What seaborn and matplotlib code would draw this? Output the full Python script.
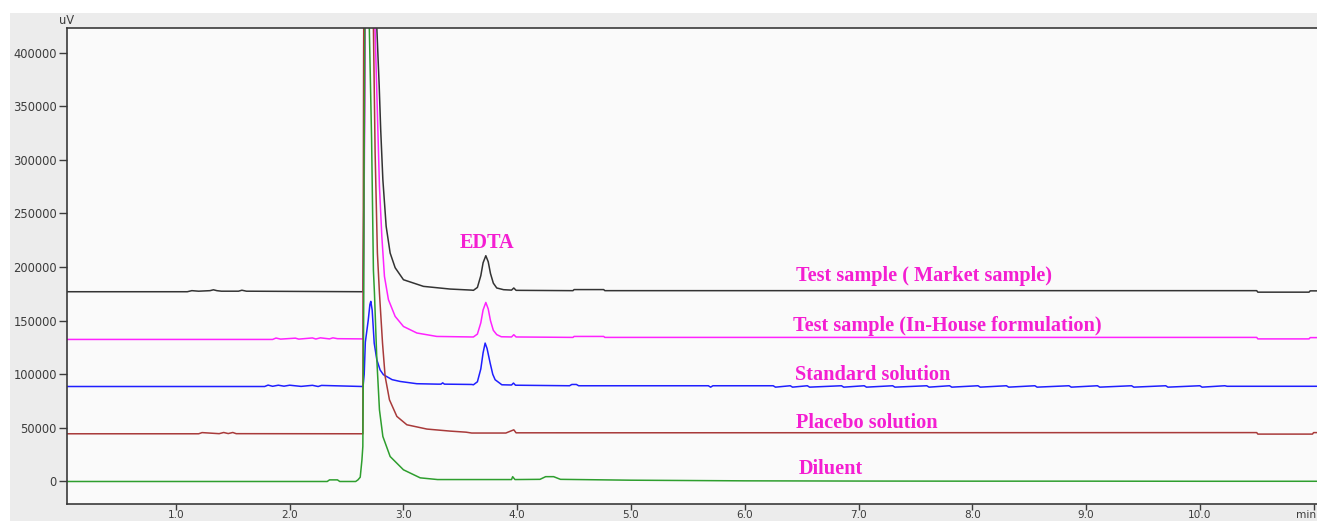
import numpy as np
import pandas as pd
import matplotlib
matplotlib.use("Agg")
import matplotlib.pyplot as plt
from matplotlib.patches import Rectangle
from matplotlib.ticker import MultipleLocator, FixedLocator
import seaborn as sns

# ---------------- data ----------------
market_t = [0.04, 1.10, 1.14, 1.20, 1.30, 1.33, 1.36, 1.40, 1.55, 1.58, 1.62, 2.640,
            2.645, 2.655, 2.675, 2.700, 2.740, 2.766, 2.787, 2.800, 2.819, 2.848, 2.883,
            2.927, 3.000, 3.176, 3.410, 3.600, 3.615, 3.650, 3.680, 3.700, 3.724, 3.745,
            3.765, 3.790, 3.820, 3.880, 3.950, 3.970, 3.990, 4.49, 4.50, 4.76, 4.77,
            10.50, 10.51, 10.96, 10.97, 11.03]
market_v = [177000, 177000, 178000, 177500, 178000, 178800, 178000, 177500, 177500, 178400, 177500, 177000,
            177000, 300000, 900000, 1000000, 600000, 423000, 368600, 328200, 281500, 238000, 213100,
            199400, 188200, 182000, 179500, 178500, 178300, 181000, 192000, 204000, 210600, 205000,
            194000, 185000, 180500, 178900, 178500, 180500, 178300, 178000, 179000, 179000, 178000,
            178000, 176600, 176600, 177800, 177800]

inhouse_t = [0.04, 1.85, 1.88, 1.92, 2.05, 2.08, 2.20, 2.23, 2.27, 2.35, 2.38, 2.42, 2.640,
             2.645, 2.660, 2.690, 2.720, 2.750, 2.789, 2.810, 2.833, 2.868, 2.927, 3.000,
             3.118, 3.293, 3.600, 3.615, 3.650, 3.680, 3.700, 3.724, 3.745, 3.765, 3.790,
             3.820, 3.860, 3.950, 3.970, 3.990, 4.49, 4.50, 4.76, 4.77,
             10.50, 10.51, 10.96, 10.97, 11.03]
inhouse_v = [132500, 132500, 133800, 132800, 133700, 132800, 133900, 132900, 134000, 133000, 134000, 133200, 133000,
             133000, 350000, 900000, 1000000, 423000, 275300, 228600, 191300, 169600, 154000, 144600,
             138500, 135300, 134800, 134800, 137500, 148000, 160000, 167000, 161000, 150000, 141000,
             137000, 135000, 134800, 136900, 134800, 134400, 135300, 135300, 134400,
             134400, 133000, 133000, 134200, 134200]

standard_t = [0.04, 1.78, 1.81, 1.85, 1.90, 1.95, 2.00, 2.10, 2.20, 2.25, 2.28, 2.640,
              2.645, 2.655, 2.665, 2.675, 2.690, 2.705, 2.713, 2.725, 2.743, 2.766, 2.795,
              2.824, 2.900, 2.971, 3.117, 3.300, 3.330, 3.345, 3.360, 3.600, 3.615, 3.650,
              3.680, 3.700, 3.718, 3.735, 3.762, 3.785, 3.806, 3.865, 3.950, 3.967, 3.985,
              4.46, 4.48, 4.52, 4.54, 5.68, 5.70, 5.72,
              6.25, 6.27, 6.40, 6.42, 6.55, 6.57, 6.85, 6.87, 7.05, 7.07, 7.30, 7.32,
              7.60, 7.62, 7.80, 7.82, 8.05, 8.07, 8.30, 8.32, 8.55, 8.57, 8.85, 8.87,
              9.10, 9.12, 9.40, 9.42, 9.70, 9.72, 10.00, 10.02, 10.22, 10.24, 11.03]
standard_v = [88600, 88600, 89900, 88800, 89800, 88900, 89800, 88700, 89700, 88600, 89600, 88600,
              88600, 100000, 130000, 138000, 150000, 165000, 168000, 160000, 129000, 113500, 104000,
              99600, 95000, 93300, 91200, 90800, 90800, 92000, 90800, 90500, 90200, 93000,
              105000, 120000, 129100, 124000, 110500, 100000, 94900, 90200, 90000, 91800, 89800,
              89300, 90500, 90500, 89300, 89300, 88000, 89300,
              89300, 88000, 89300, 88000, 89300, 88000, 89300, 88000, 89300, 88000, 89300, 88000,
              89300, 88000, 89300, 88000, 89300, 88000, 89300, 88000, 89300, 88000, 89300, 88000,
              89300, 88000, 89300, 88000, 89300, 88000, 89300, 88000, 89300, 88800, 88800]

placebo_t = [0.04, 1.20, 1.23, 1.38, 1.42, 1.46, 1.50, 1.53, 2.638,
             2.643, 2.650, 2.670, 2.700, 2.736, 2.751, 2.771, 2.789, 2.816, 2.839, 2.877,
             2.942, 3.030, 3.206, 3.410, 3.550, 3.600, 3.900, 3.970, 3.990, 10.500, 10.510,
             10.990, 11.000, 11.03]
placebo_v = [44500, 44500, 45600, 44600, 45700, 44700, 45700, 44600, 44500,
             44500, 400000, 900000, 1000000, 423000, 306400, 213100, 175800, 129100, 98000, 76200,
             60700, 52900, 48900, 47000, 46000, 45200, 45200, 48200, 45400, 45600, 44200,
             44200, 45600, 45600]

diluent_t = [0.04, 2.33, 2.35, 2.42, 2.44, 2.58, 2.600, 2.620, 2.635, 2.643, 2.650,
             2.655, 2.665, 2.680, 2.700, 2.720, 2.736, 2.745, 2.766, 2.789, 2.819, 2.883,
             3.000, 3.147, 3.300, 3.950, 3.960, 3.980, 4.200, 4.250, 4.320, 4.380, 5.000,
             6.0, 7.0, 8.0, 9.0, 10.0, 11.03]
diluent_v = [0, 0, 1500, 1500, 0, 0, 1500, 4000, 20000, 32700, 150000,
             317000, 500000, 700000, 423000, 319000, 197000, 176000, 113500, 66900, 42000, 23300,
             10900, 3400, 1800, 1800, 4500, 1800, 2000, 4500, 4500, 2000, 1200,
             600, 400, 300, 300, 200, 200]

series_names = ["Test sample ( Market sample)", "Test sample (In-House formulation)",
                "Standard solution", "Placebo solution", "Diluent"]
series_t = [market_t, inhouse_t, standard_t, placebo_t, diluent_t]
series_v = [market_v, inhouse_v, standard_v, placebo_v, diluent_v]
series_colors = ["#333333", "#ff22ff", "#1f1fff", "#a83a3a", "#2e9e2e"]

label_t = [6.45, 6.425, 6.44, 6.45, 6.47]
label_v = [186600, 140600, 94700, 49800, 6900]

peak_name = "EDTA"
peak_t = 3.733
peak_v = 217800

x_major = [1, 2, 3, 4, 5, 6, 7, 8, 9, 10, 11]
x_labels = ["1.0", "2.0", "3.0", "4.0", "5.0", "6.0", "7.0", "8.0", "9.0", "10.0", ""]
y_major = [0, 50000, 100000, 150000, 200000, 250000, 300000, 350000, 400000]
y_labels = [str(v) for v in y_major]

# ---------------- figure ----------------
sns.set_style("white")
plt.rcParams["font.family"] = ["DejaVu Sans"]

W, H = 1317, 521
fig = plt.figure(figsize=(W / 100, H / 100), dpi=100, facecolor="white")
fig.patches.append(Rectangle((10 / W, 0), 1, 1 - 13 / H, transform=fig.transFigure,
                             facecolor="#ececec", edgecolor="none", zorder=-10))

ax_l, ax_r, ax_b, ax_t = 66.7, 1317, 504, 28
ax = fig.add_axes([ax_l / W, (H - ax_b) / H, (ax_r - ax_l) / W, (ax_b - ax_t) / H])
ax.set_zorder(1)
ax.set_facecolor("#fafafa")

for name, t, v, c in zip(series_names, series_t, series_v, series_colors):
    df = pd.DataFrame({"t": t, "v": v})
    sns.lineplot(data=df, x="t", y="v", ax=ax, color=c, lw=1.1, sort=False,
                 estimator=None, legend=False)

ax.set_xlim(0.04, 11.03)
ax.set_ylim(-21000, 423000)

label_color = "#f41ed2"
for name, lt, lv in zip(series_names, label_t, label_v):
    ax.text(lt, lv, name, family="Liberation Serif", weight="bold", fontsize=14.6,
            color=label_color, ha="left", va="baseline")
ax.text(peak_t, peak_v, peak_name, family="Liberation Serif", weight="bold", fontsize=14.6,
        color=label_color, ha="center", va="baseline")

ax.xaxis.set_major_locator(FixedLocator(x_major))
ax.set_xticklabels(x_labels)
ax.xaxis.set_minor_locator(MultipleLocator(0.2))
ax.yaxis.set_major_locator(FixedLocator(y_major))
ax.set_yticklabels(y_labels)
ax.yaxis.set_minor_locator(MultipleLocator(10000))

tick_col = "#3c3c3c"
ax.tick_params(axis="y", which="major", direction="out", length=6, width=1.0,
               colors=tick_col, labelsize=8.3, pad=1)
ax.tick_params(axis="y", which="minor", direction="out", length=3.5, width=1.0, colors=tick_col)
ax.tick_params(axis="x", which="major", direction="out", length=4, width=1.0,
               colors=tick_col, labelsize=7.6, pad=0.3)
ax.tick_params(axis="x", which="minor", direction="out", length=2.5, width=1.0, colors=tick_col)
ax.tick_params(left=True, bottom=True)
ax.set_xlabel("")
ax.set_ylabel("")

for s in ["left", "bottom", "top"]:
    ax.spines[s].set_visible(True)
    ax.spines[s].set_color("#3a3a3a")
    ax.spines[s].set_linewidth(1.2)
ax.spines["right"].set_visible(False)

fig.text(67 / W, 1 - 20 / H, "uV", ha="center", va="center", fontsize=8.3, color=tick_col)
fig.text(1316 / W, 1 - 510 / H, "min", ha="right", va="top", fontsize=7.6, color=tick_col)

fig.savefig("out.png", dpi=100, facecolor=fig.get_facecolor())
